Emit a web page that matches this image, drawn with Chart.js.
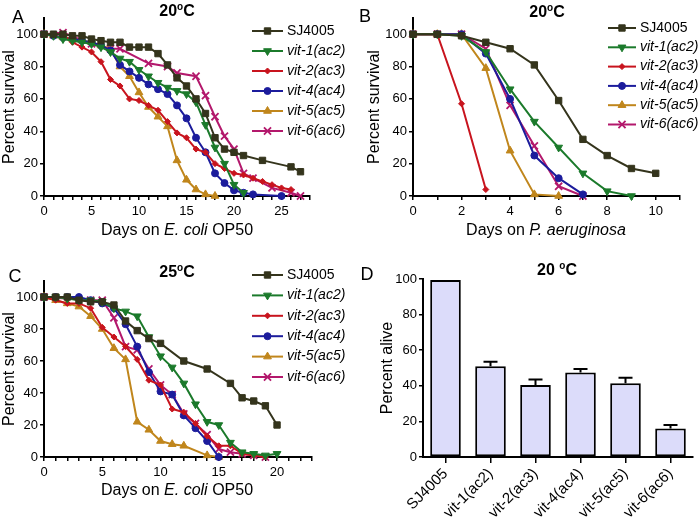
<!DOCTYPE html>
<html>
<head>
<meta charset="utf-8">
<script src="https://cdn.jsdelivr.net/npm/chart.js@4.4.0/dist/chart.umd.min.js"></script>
<style>
body { margin:0; width:700px; height:518px; position:relative; background:#fff; overflow:hidden;
       font-family: Arial, "Liberation Sans", sans-serif; color:#000; }
.box { position:absolute; }
.t { position:absolute; white-space:nowrap; transform:translate(-50%,-50%); line-height:1; }
.letter { font-size:18px; }
.title { font-size:16px; font-weight:bold; }
.title span { font-size:10px; position:relative; top:-6px; }
.xt { font-size:16px; }
</style>
</head>
<body>

<div class="box" style="left:0;top:0;width:350px;height:250px"><canvas id="chartA"></canvas></div>
<div class="box" style="left:350px;top:0;width:350px;height:250px"><canvas id="chartB"></canvas></div>
<div class="box" style="left:0;top:260px;width:350px;height:250px"><canvas id="chartC"></canvas></div>
<div class="box" style="left:350px;top:260px;width:350px;height:258px"><canvas id="chartD"></canvas></div>

<div class="t letter" style="left:18px;top:17px">A</div>
<div class="t title" style="left:177px;top:11px">20<span>o</span>C</div>
<div class="t xt" style="left:177px;top:230px">Days on <i>E. coli</i> OP50</div>

<div class="t letter" style="left:365px;top:16px">B</div>
<div class="t title" style="left:547px;top:12px">20<span>o</span>C</div>
<div class="t xt" style="left:546px;top:230px">Days on <i>P. aeruginosa</i></div>

<div class="t letter" style="left:15px;top:276px">C</div>
<div class="t title" style="left:177px;top:272px">25<span>o</span>C</div>
<div class="t xt" style="left:177px;top:490px">Days on <i>E. coli</i> OP50</div>

<div class="t letter" style="left:367px;top:274px">D</div>
<div class="t title" style="left:557px;top:270px">20 <span>o</span>C</div>

<script>
// strains
var strains = ['SJ4005', 'vit-1(ac2)', 'vit-2(ac3)', 'vit-4(ac4)', 'vit-5(ac5)', 'vit-6(ac6)'];

// panel A: 20C on E. coli OP50
var aDaysSJ = [0,1,2,3,4,5,6,7,8,9,10,11,12,13,14,15,16,17,18,19,20,21,23,26,27];
var aSurvSJ = [100,100,100,99,99,97,96,95,95,92,92,92,88,81,73,68,60,51,36,29,27,25,22,18,15];
var aDaysV1 = [0,1,2,3,4,5,6,7,8,9,10,11,12,13,14,15,16,17,18,19,20,21];
var aSurvV1 = [100,99,97,96,95,94,92,89,85,83,78,74,70,67,65,63,58,44,30,20,7,2];
var aDaysV2 = [0,1,2,3,4,5,6,7,8,9,10,11,12,13,14,15,16,17,18,19,20,21,22,23,24,25,26];
var aSurvV2 = [100,100,100,95,92,89,83,72,68,60,59,56,53,46,39,36,29,27,20,17,14,13,11,9,7,5,4];
var aDaysV4 = [0,1,2,3,4,5,6,7,8,9,10,11,12,13,14,15,16,17,18,19,20,21,22,25];
var aSurvV4 = [100,99,98,97,96,95,93,90,81,77,73,69,66,63,56,48,36,27,14,8,3.5,2,1,0];
var aDaysV5 = [0,1,2,3,4,5,6,7,8,9,10,11,12,13,14,15,16,17,18];
var aSurvV5 = [100,99,98,97,96,95,93,91,80,74,64,55,49,43,22,10,4,1,0];
var aDaysV6 = [0,2,5,7,8,11,13,14,16,17,18,19,20,21,22,24,26,27];
var aSurvV6 = [100,101,94,91,91,82,80,76,74,62,49,37,29,14,11,5,2,0];

// panel B: 20C on P. aeruginosa
var bDaysSJ = [0,1,2,3,4,5,6,7,8,9,10];
var bSurvSJ = [100,100,99,95,91,81,59,35,25,17,14];
var bDaysV1 = [0,1,2,3,4,5,6,7,8,9];
var bSurvV1 = [100,100,99,89,66,46,30,14,3,0];
var bDaysV2 = [0,1,2,3];
var bSurvV2 = [100,100,57,4];
var bDaysV4 = [0,1,2,3,4,5,6,7];
var bSurvV4 = [100,100,100,88,60,25,11,1];
var bDaysV5 = [0,1,2,3,4,5,6];
var bSurvV5 = [100,100,100,79,28,1,0];
var bDaysV6 = [0,1,2,3,4,5,6,7];
var bSurvV6 = [100,100,100,91,56,31,6,0];

// panel C: 25C on E. coli OP50
var cDaysSJ = [0,1,2,3,4,5,6,7,8,9,10,12,14,16,17,18,19,20];
var cSurvSJ = [100,100,100,98,97,97,95,85,79,74,71,60,55,46,37,35,32,20];
var cDaysV1 = [0,1,2,3,4,5,6,7,8,9,10,11,12,13,14,15,16,17,18,19,20];
var cSurvV1 = [100,100,99,98,98,97,93,91,88,75,63,56,46,33,22,20,9,3,2,1,2];
var cDaysV2 = [0,1,2,3,4,5,6,7,8,9,10,11,12,13,14,15,16,17,18,19];
var cSurvV2 = [100,98,96,96,93,81,75,69,61,48,45,30,28,21,13,7,7,2,1,0];
var cDaysV4 = [0,1,2,3,4,5,6,7,8,9,10,11,12,13,14,15];
var cSurvV4 = [100,100,100,100,98,96,93,83,69,53,41,39,26,18,10,0];
var cDaysV5 = [0,1,2,3,4,5,6,7,8,9,10,11,12,14,15];
var cSurvV5 = [100,98,96,94,88,80,68,61,22,17,10,8,7,1,0];
var cDaysV6 = [0,4,5,6,7,8,9,10,11,12,13,14,15,16,17,18,19];
var cSurvV6 = [100,98,98,87,69,67,55,45,39,27,21,14,5,3,2,1,0];

// panel D: percent alive
var dAlive = [99.5, 51, 40.5, 47.5, 41.5, 16];
var dError = [0, 2.5, 3, 2, 3, 2];

var colors = ['#34341c', '#1b7a2b', '#c8141e', '#1c1c9c', '#c0861c', '#b3186c'];
var markers = [
  { style: 'rect', radius: 4.5, rot: 0 },
  { style: 'triangle', radius: 4.5, rot: 180 },
  { style: 'rectRot', radius: 3, rot: 0 },
  { style: 'circle', radius: 3.5, rot: 0 },
  { style: 'triangle', radius: 4.5, rot: 0 },
  { style: 'crossRot', radius: 5, rot: 0 }
];

Chart.defaults.font.family = 'Arial, "Liberation Sans", sans-serif';
Chart.defaults.color = '#000';

function pts(days, vals) {
  return days.map(function(d, i) { return { x: d, y: vals[i] }; });
}

function series(list) {
  return list.map(function(p, i) {
    return {
      label: strains[i],
      data: pts(p[0], p[1]),
      borderColor: colors[i],
      backgroundColor: colors[i],
      pointBackgroundColor: colors[i],
      pointBorderColor: colors[i],
      borderWidth: 2,
      pointStyle: markers[i].style,
      pointRadius: markers[i].radius,
      pointRotation: markers[i].rot,
      pointBorderWidth: markers[i].style == 'crossRot' ? 1.8 : 1,
      tension: 0,
      clip: false
    };
  });
}

// legend with a bit of line and the marker, like the original
var lineLegend = {
  id: 'lineLegend',
  afterDraw: function(chart, args, opts) {
    var ctx = chart.ctx;
    chart.data.datasets.forEach(function(ds, i) {
      var y = opts.y + i * opts.dy;
      ctx.save();
      ctx.strokeStyle = ds.borderColor;
      ctx.lineWidth = 2;
      ctx.beginPath();
      ctx.moveTo(opts.x, y);
      ctx.lineTo(opts.x + opts.w, y);
      ctx.stroke();
      ctx.fillStyle = ds.pointBackgroundColor;
      ctx.lineWidth = ds.pointBorderWidth;
      Chart.helpers.drawPoint(ctx, {
        pointStyle: ds.pointStyle, rotation: ds.pointRotation,
        radius: ds.pointRadius, borderWidth: ds.pointBorderWidth
      }, opts.x + opts.w / 2, y);
      ctx.font = (ds.label.indexOf('vit') === 0 ? 'italic ' : '') + '14px Arial, "Liberation Sans", sans-serif';
      ctx.fillStyle = '#000';
      ctx.textBaseline = 'middle';
      ctx.fillText(ds.label, opts.x + opts.w + 4, y);
      ctx.restore();
    });
  }
};

function survivalChart(id, data, xmax, every, pad, yWidth, xHeight, leg) {
  return new Chart(document.getElementById(id), {
    type: 'line',
    data: { datasets: series(data) },
    plugins: [lineLegend],
    options: {
      responsive: true,
      maintainAspectRatio: false,
      animation: false,
      layout: { padding: pad },
      plugins: {
        legend: { display: false },
        tooltip: { enabled: false },
        lineLegend: leg
      },
      scales: {
        x: {
          type: 'linear', min: 0, max: xmax,
          afterFit: function(s) { s.height = xHeight; },
          ticks: {
            stepSize: 1, autoSkip: false, maxRotation: 0, padding: 4,
            font: { size: 13 },
            callback: function(v) { return v % every === 0 ? v : ''; }
          },
          grid: { drawOnChartArea: false, color: '#000', lineWidth: 1.5, tickLength: 4 },
          border: { color: '#000', width: 2 }
        },
        y: {
          min: 0, max: 110,
          afterFit: function(s) { s.width = yWidth; },
          afterBuildTicks: function(s) { s.ticks = s.ticks.filter(function(t) { return t.value <= 100; }); },
          ticks: { stepSize: 20, padding: 2, font: { size: 13 } },
          grid: { drawOnChartArea: false, color: '#000', lineWidth: 1.5, tickLength: 4 },
          border: { color: '#000', width: 2 },
          title: { display: true, text: 'Percent survival', font: { size: 16 }, padding: 0 }
        }
      }
    }
  });
}

survivalChart('chartA',
  [[aDaysSJ, aSurvSJ], [aDaysV1, aSurvV1], [aDaysV2, aSurvV2], [aDaysV4, aSurvV4], [aDaysV5, aSurvV5], [aDaysV6, aSurvV6]],
  28, 5, { left: 0, top: 18, right: 40, bottom: 0 }, 44, 54, { x: 252, y: 31, dy: 20, w: 31 });

survivalChart('chartB',
  [[bDaysSJ, bSurvSJ], [bDaysV1, bSurvV1], [bDaysV2, bSurvV2], [bDaysV4, bSurvV4], [bDaysV5, bSurvV5], [bDaysV6, bSurvV6]],
  11, 2, { left: 15, top: 18, right: 20, bottom: 0 }, 48, 54, { x: 258, y: 28, dy: 19.3, w: 28 });

survivalChart('chartC',
  [[cDaysSJ, cSurvSJ], [cDaysV1, cSurvV1], [cDaysV2, cSurvV2], [cDaysV4, cSurvV4], [cDaysV5, cSurvV5], [cDaysV6, cSurvV6]],
  23, 5, { left: 0, top: 21, right: 38, bottom: 0 }, 44, 53, { x: 252, y: 15, dy: 20.4, w: 31 });

// error caps on top of the bars
var errorBars = {
  id: 'errorBars',
  afterDatasetsDraw: function(chart) {
    var ctx = chart.ctx;
    var yScale = chart.scales.y;
    var meta = chart.getDatasetMeta(0);
    ctx.save();
    ctx.strokeStyle = '#000';
    ctx.lineWidth = 2;
    meta.data.forEach(function(bar, i) {
      if (!dError[i]) return;
      var top = yScale.getPixelForValue(dAlive[i] + dError[i]);
      ctx.beginPath();
      ctx.moveTo(bar.x, bar.y);
      ctx.lineTo(bar.x, top);
      ctx.moveTo(bar.x - 7, top);
      ctx.lineTo(bar.x + 7, top);
      ctx.stroke();
    });
    ctx.restore();
  }
};

new Chart(document.getElementById('chartD'), {
  type: 'bar',
  data: {
    labels: strains,
    datasets: [{
      data: dAlive,
      backgroundColor: '#dcdcfa',
      borderColor: '#000',
      borderWidth: 2,
      borderSkipped: false,
      barPercentage: 0.68,
      categoryPercentage: 1
    }]
  },
  plugins: [errorBars],
  options: {
    responsive: true,
    maintainAspectRatio: false,
    animation: false,
    layout: { padding: { left: 28, top: 19, right: 7, bottom: 0 } },
    plugins: { legend: { display: false }, tooltip: { enabled: false } },
    scales: {
      x: {
        afterFit: function(s) { s.height = 61; },
        ticks: { minRotation: 45, maxRotation: 45, autoSkip: false, padding: 2, font: { size: 15 } },
        grid: { offset: false, drawOnChartArea: false, color: '#000', lineWidth: 1.5, tickLength: 6 },
        border: { color: '#000', width: 2 }
      },
      y: {
        min: 0, max: 100,
        afterFit: function(s) { s.width = 45; },
        ticks: { stepSize: 20, padding: 2, font: { size: 13 } },
        grid: { drawOnChartArea: false, color: '#000', lineWidth: 1.5, tickLength: 4 },
        border: { color: '#000', width: 2 },
        title: { display: true, text: 'Percent alive', font: { size: 16 }, padding: 0 }
      }
    }
  }
});
</script>
</body>
</html>
